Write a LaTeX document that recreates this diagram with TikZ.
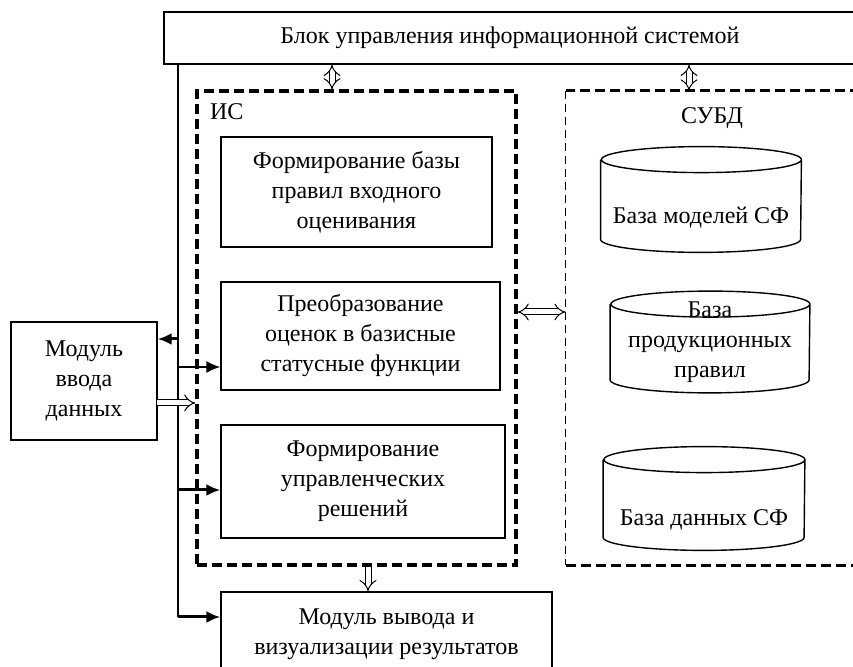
\documentclass[tikz,border=0pt]{standalone}
\usepackage{fontspec}
\setmainfont{Liberation Serif}
\usetikzlibrary{arrows.meta}

\begin{document}
\begin{tikzpicture}[x=0.5pt, y=-0.5pt,
        every node/.style={font=\fontsize{12}{15}\selectfont, align=center},
        box/.style={draw, line width=0.7pt, inner sep=2pt},
        frame/.style={dash pattern=on 5pt off 2.5pt, line width=1.6pt},
        thinframe/.style={dash pattern=on 4pt off 2.5pt, line width=0.7pt},
        feed/.style={line width=1.5pt, -{Latex[length=7pt,width=6pt]}},
        feedthin/.style={line width=0.7pt, -{Latex[length=7pt,width=6pt]}},
        hollow/.style={double, double distance=2.5pt, line width=0.5pt, -{Implies}},
        hollowboth/.style={double, double distance=2.5pt, line width=0.5pt, {Implies}-{Implies}}]
    \useasboundingbox (0,0) rectangle (853,667);
    \clip (0,0) rectangle (853,667);

    \node [box, minimum width=346pt, minimum height=26pt] (blok) at (510,38)
        {Блок управления информационной системой};

    \node [draw, frame, minimum width=159.5pt, minimum height=237pt] (is) at (356.5,328) {};
    \node [anchor=west] (islab) at (203,112) {ИС};
    \node [minimum width=147pt, minimum height=237pt] (subd) at (713,328) {};
    \draw [frame] (subd.north east) -- (subd.north west);
    \draw [thinframe] (subd.north west) -- (subd.south west);
    \draw [frame] (subd.south west) -- (subd.south east);
    \node (subdlab) at (712,118) {СУБД};

    \node [box, minimum width=135.5pt, minimum height=55pt] (f1) at (356.5,192)
        {Формирование базы\\правил входного\\оценивания};
    \node [box, minimum width=139.5pt, minimum height=54pt] (f2) at (360.5,336)
        {Преобразование\\оценок в базисные\\статусные функции};
    \node [box, minimum width=142pt, minimum height=56.5pt] (f3) at (363,481.5)
        {Формирование\\управленческих\\решений};

    \node [box, minimum width=73pt, minimum height=59pt] (vvod) at (84,381)
        {Модуль\\ввода\\данных};
    \node [box, minimum width=165.5pt, minimum height=42pt] (vyvod) at (386.5,634)
        {Модуль вывода и\\визуализации результатов};

    \node [minimum width=100pt, minimum height=52.5pt, inner sep=0pt] (c1) at (701,199.5) {};
    \node [minimum width=99.5pt, minimum height=50.5pt, inner sep=0pt] (c2) at (710,342) {};
    \node [minimum width=100.5pt, minimum height=51.5pt, inner sep=0pt] (c3) at (704,498.5) {};
    \foreach \c/\r in {c1/50pt, c2/49.75pt, c3/50.25pt}
        \draw [line width=0.7pt] ([yshift=-6.5pt]\c.north west)
            -- ([yshift=6.5pt]\c.south west)
            arc [start angle=180, end angle=360, x radius=\r, y radius=6.5pt]
            -- ([yshift=-6.5pt]\c.north east)
            arc [start angle=0, end angle=360, x radius=\r, y radius=6.5pt];
    \node (c1lab) at (701,218) {База моделей СФ};
    \node (c2lab) at (710,342) {База\\продукционных\\правил};
    \node (c3lab) at (704,520) {База данных СФ};

    \coordinate (trunk) at (178,617);
    \coordinate (t1) at (178,339);
    \coordinate (t2) at (178,367);
    \coordinate (t3) at (178,490);
    \coordinate (v1) at (157,403);
    \coordinate (h1) at (332,0);
    \coordinate (h2) at (689,0);
    \coordinate (h3) at (0,312);
    \coordinate (h4) at (368,0);

    \draw [line width=0.7pt] (blok.south -| trunk) -- (trunk);
    \draw [feed] (t1) -- (t1 -| vvod.east);
    \draw [feedthin] (t2) -- (t2 -| f2.west);
    \draw [feed] (t3) -- (t3 -| f3.west);
    \draw [feed] (trunk) -- (trunk -| vyvod.west);
    \draw [hollow] (v1) -- (v1 -| is.west);

    \draw [hollowboth] (blok.south -| h1) -- (is.north -| h1);
    \draw [hollowboth] (blok.south -| h2) -- (subd.north -| h2);
    \draw [hollowboth] (is.east |- h3) -- (subd.west |- h3);
    \draw [hollow] (is.south -| h4) -- (vyvod.north -| h4);
\end{tikzpicture}
\end{document}
